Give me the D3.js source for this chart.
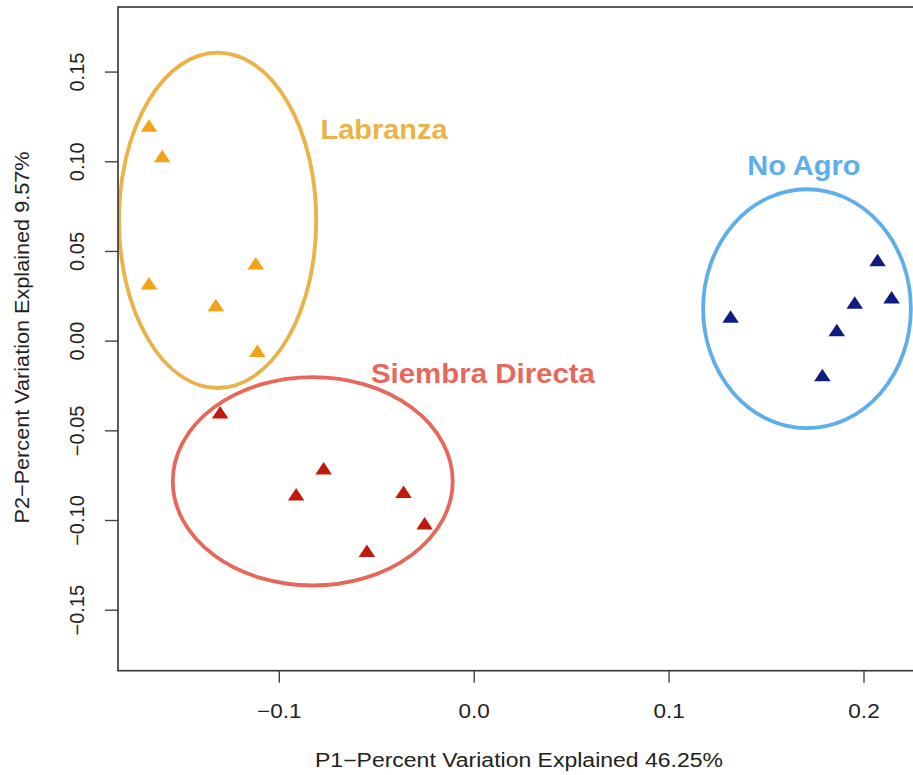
<!DOCTYPE html>
<html>
<head>
<meta charset="utf-8">
<script src="https://cdn.jsdelivr.net/npm/d3@7"></script>
<style>
  html, body { margin: 0; padding: 0; background: #fff; }
  svg { display: block; font-family: "Liberation Sans", Arial, Helvetica, sans-serif; }
</style>
</head>
<body>
<svg id="chart" width="913" height="775"></svg>
<script>
// ---------------- data ----------------
const groups = ["Labranza", "Siembra Directa", "No Agro"];

const labranzaP1 = [-0.1666, -0.1598, -0.1666, -0.1323, -0.1118, -0.1110];
const labranzaP2 = [ 0.1200,  0.1030,  0.0320,  0.0199,  0.0431, -0.0056];

const siembraP1 = [-0.1301, -0.0770, -0.0911, -0.0360, -0.0252, -0.0548];
const siembraP2 = [-0.0399, -0.0711, -0.0856, -0.0842, -0.1018, -0.1171];

const noAgroP1 = [0.1318, 0.2072, 0.2144, 0.1955, 0.1863, 0.1789];
const noAgroP2 = [0.0134, 0.0450, 0.0242, 0.0212, 0.0060, -0.0191];

// ellipse centres and radii (data units): [cx, cy, rx, ry]
const ellipseLabranza = [-0.1314, 0.0671, 0.0506, 0.0935];
const ellipseSiembra  = [-0.0826, -0.0784, 0.0718, 0.0581];
const ellipseNoAgro   = [0.1710, 0.0178, 0.0533, 0.0666];

// label anchor positions (data units): [p1, p2]
const labelLabranza = [-0.0786, 0.1124];
const labelSiembra  = [-0.0527, -0.0237];
const labelNoAgro   = [0.1404, 0.0923];

const xTicks = [-0.1, 0.0, 0.1, 0.2];
const yTicks = [-0.15, -0.10, -0.05, 0.00, 0.05, 0.10, 0.15];

const xDomain = [-0.1825, 0.2295];
const yDomain = [-0.1840, 0.1860];

const xTitle = "P1\u2212Percent Variation Explained 46.25%";
const yTitle = "P2\u2212Percent Variation Explained 9.57%";

// ---------------- layout ----------------
const plot = { left: 118, right: 921, top: 7, bottom: 670.7 };
const svg = d3.select("#chart");

const x = d3.scaleLinear().domain(xDomain).range([plot.left, plot.right]);
const y = d3.scaleLinear().domain(yDomain).range([plot.bottom, plot.top]);

const series = [
  { name: groups[0], p1: labranzaP1, p2: labranzaP2, ell: ellipseLabranza, lab: labelLabranza,
    ptColor: "#F4A218", lineColor: "#EAB247", textLen: 127 },
  { name: groups[1], p1: siembraP1, p2: siembraP2, ell: ellipseSiembra, lab: labelSiembra,
    ptColor: "#C2190D", lineColor: "#E8675B", textLen: 224 },
  { name: groups[2], p1: noAgroP1, p2: noAgroP2, ell: ellipseNoAgro, lab: labelNoAgro,
    ptColor: "#101B80", lineColor: "#5DAEEA", textLen: 113 }
];

// clip for plot contents
svg.append("defs").append("clipPath").attr("id", "clip")
  .append("rect").attr("x", plot.left).attr("y", plot.top)
  .attr("width", plot.right - plot.left).attr("height", plot.bottom - plot.top);

const g = svg.append("g").attr("clip-path", "url(#clip)");

// ellipses
series.forEach(s => {
  const [cx, cy, rx, ry] = s.ell;
  g.append("ellipse")
    .attr("cx", x(cx)).attr("cy", y(cy))
    .attr("rx", x(cx + rx) - x(cx)).attr("ry", y(cy) - y(cy + ry))
    .attr("fill", "none").attr("stroke", s.lineColor).attr("stroke-width", 3.8);
});

// triangle symbol (bbox centred on the point)
const tri = {
  draw(ctx, size) {
    const w = 16.5, h = 12.5;
    ctx.moveTo(0, -h / 2);
    ctx.lineTo(w / 2, h / 2);
    ctx.lineTo(-w / 2, h / 2);
    ctx.closePath();
  }
};
const symbolPath = d3.symbol().type(tri)();

series.forEach(s => {
  const pts = s.p1.map((v, i) => [v, s.p2[i]]);
  g.selectAll(null).data(pts).enter().append("path")
    .attr("d", symbolPath)
    .attr("transform", d => `translate(${x(d[0])},${y(d[1])})`)
    .attr("fill", s.ptColor);
});

// group labels
series.forEach(s => {
  svg.append("text")
    .attr("x", x(s.lab[0])).attr("y", y(s.lab[1]))
    .attr("font-size", 27).attr("font-weight", "bold")
    .attr("fill", s.lineColor)
    .attr("textLength", s.textLen).attr("lengthAdjust", "spacingAndGlyphs")
    .text(s.name);
});

// frame (right side extends beyond the window)
svg.append("rect")
  .attr("x", plot.left).attr("y", plot.top)
  .attr("width", plot.right - plot.left).attr("height", plot.bottom - plot.top)
  .attr("fill", "none").attr("stroke", "#333").attr("stroke-width", 1.6);

// x axis
const xAxis = svg.append("g")
  .attr("transform", `translate(0,${plot.bottom})`)
  .call(d3.axisBottom(x).tickValues(xTicks).tickFormat(d3.format(".1f")).tickSize(12).tickPadding(0));
xAxis.select(".domain").remove();
xAxis.selectAll(".tick line").attr("stroke", "#444").attr("stroke-width", 1.4);
xAxis.selectAll(".tick text")
  .attr("y", 47).attr("dy", null)
  .attr("font-size", 20).attr("fill", "#222")
  .attr("font-family", "Liberation Sans, Arial, sans-serif")
  .attr("transform", "scale(1.13,1)");

// y axis
const yAxis = svg.append("g")
  .attr("transform", `translate(${plot.left},0)`)
  .call(d3.axisLeft(y).tickValues(yTicks).tickFormat(d3.format(".2f")).tickSize(13).tickPadding(0));
yAxis.select(".domain").remove();
yAxis.selectAll(".tick line").attr("stroke", "#444").attr("stroke-width", 1.4);
yAxis.selectAll(".tick text")
  .attr("x", null).attr("dy", null)
  .attr("text-anchor", "middle")
  .attr("font-size", 20).attr("fill", "#222")
  .attr("font-family", "Liberation Sans, Arial, sans-serif")
  .attr("transform", "translate(-34.5,0) rotate(-90)");

// axis titles
svg.append("text")
  .attr("x", 519).attr("y", 767)
  .attr("text-anchor", "middle")
  .attr("font-size", 19.5).attr("fill", "#222")
  .attr("textLength", 408).attr("lengthAdjust", "spacingAndGlyphs")
  .text(xTitle);

svg.append("text")
  .attr("transform", "translate(28.5,337.5) rotate(-90)")
  .attr("text-anchor", "middle")
  .attr("font-size", 20.5).attr("fill", "#222")
  .attr("textLength", 372).attr("lengthAdjust", "spacingAndGlyphs")
  .text(yTitle);
</script>
</body>
</html>
